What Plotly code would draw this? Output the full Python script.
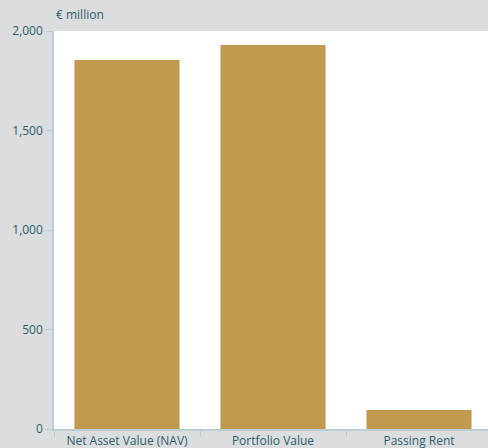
import plotly.graph_objects as go

categories = ["Net Asset Value (NAV)", "Portfolio Value", "Passing Rent"]
values = [1854, 1930, 95]
y_ticks = [0, 500, 1000, 1500, 2000]
y_tick_labels = ["0", "500", "1,000", "1,500", "2,000"]

bar_color = "#c19a50"
text_color = "#2b5d69"
axis_color = "#b9cdd5"
bg_color = "#dcdddf"

fig = go.Figure(
    go.Bar(x=categories, y=values, marker_color=bar_color, marker_line_width=0, width=0.72)
)

fig.update_layout(
    width=488,
    height=448,
    margin=dict(l=54, r=0, t=31, b=19),
    paper_bgcolor=bg_color,
    plot_bgcolor="white",
    font=dict(family="Open Sans", size=12, color=text_color),
    showlegend=False,
    bargap=0.28,
)

fig.update_xaxes(
    range=[-0.5, 2.4726],
    showgrid=False,
    showline=True,
    linecolor=axis_color,
    linewidth=1.5,
    ticks="outside",
    tickson="boundaries",
    ticklen=6,
    tickcolor=axis_color,
    tickfont=dict(size=12, color=text_color),
    fixedrange=True,
)

fig.update_yaxes(
    range=[0, 2000],
    tickvals=y_ticks,
    ticktext=y_tick_labels,
    showgrid=False,
    zeroline=False,
    showline=True,
    linecolor=axis_color,
    linewidth=1.5,
    ticks="outside",
    ticklen=7,
    tickcolor=axis_color,
    tickfont=dict(size=12, color=text_color),
    fixedrange=True,
)

fig.add_annotation(
    text="€ million",
    xref="paper", yref="paper",
    x=0, y=1, xanchor="left", yanchor="bottom",
    yshift=6, xshift=0,
    showarrow=False,
    font=dict(size=12, color=text_color),
)

fig.write_html("out.html")
